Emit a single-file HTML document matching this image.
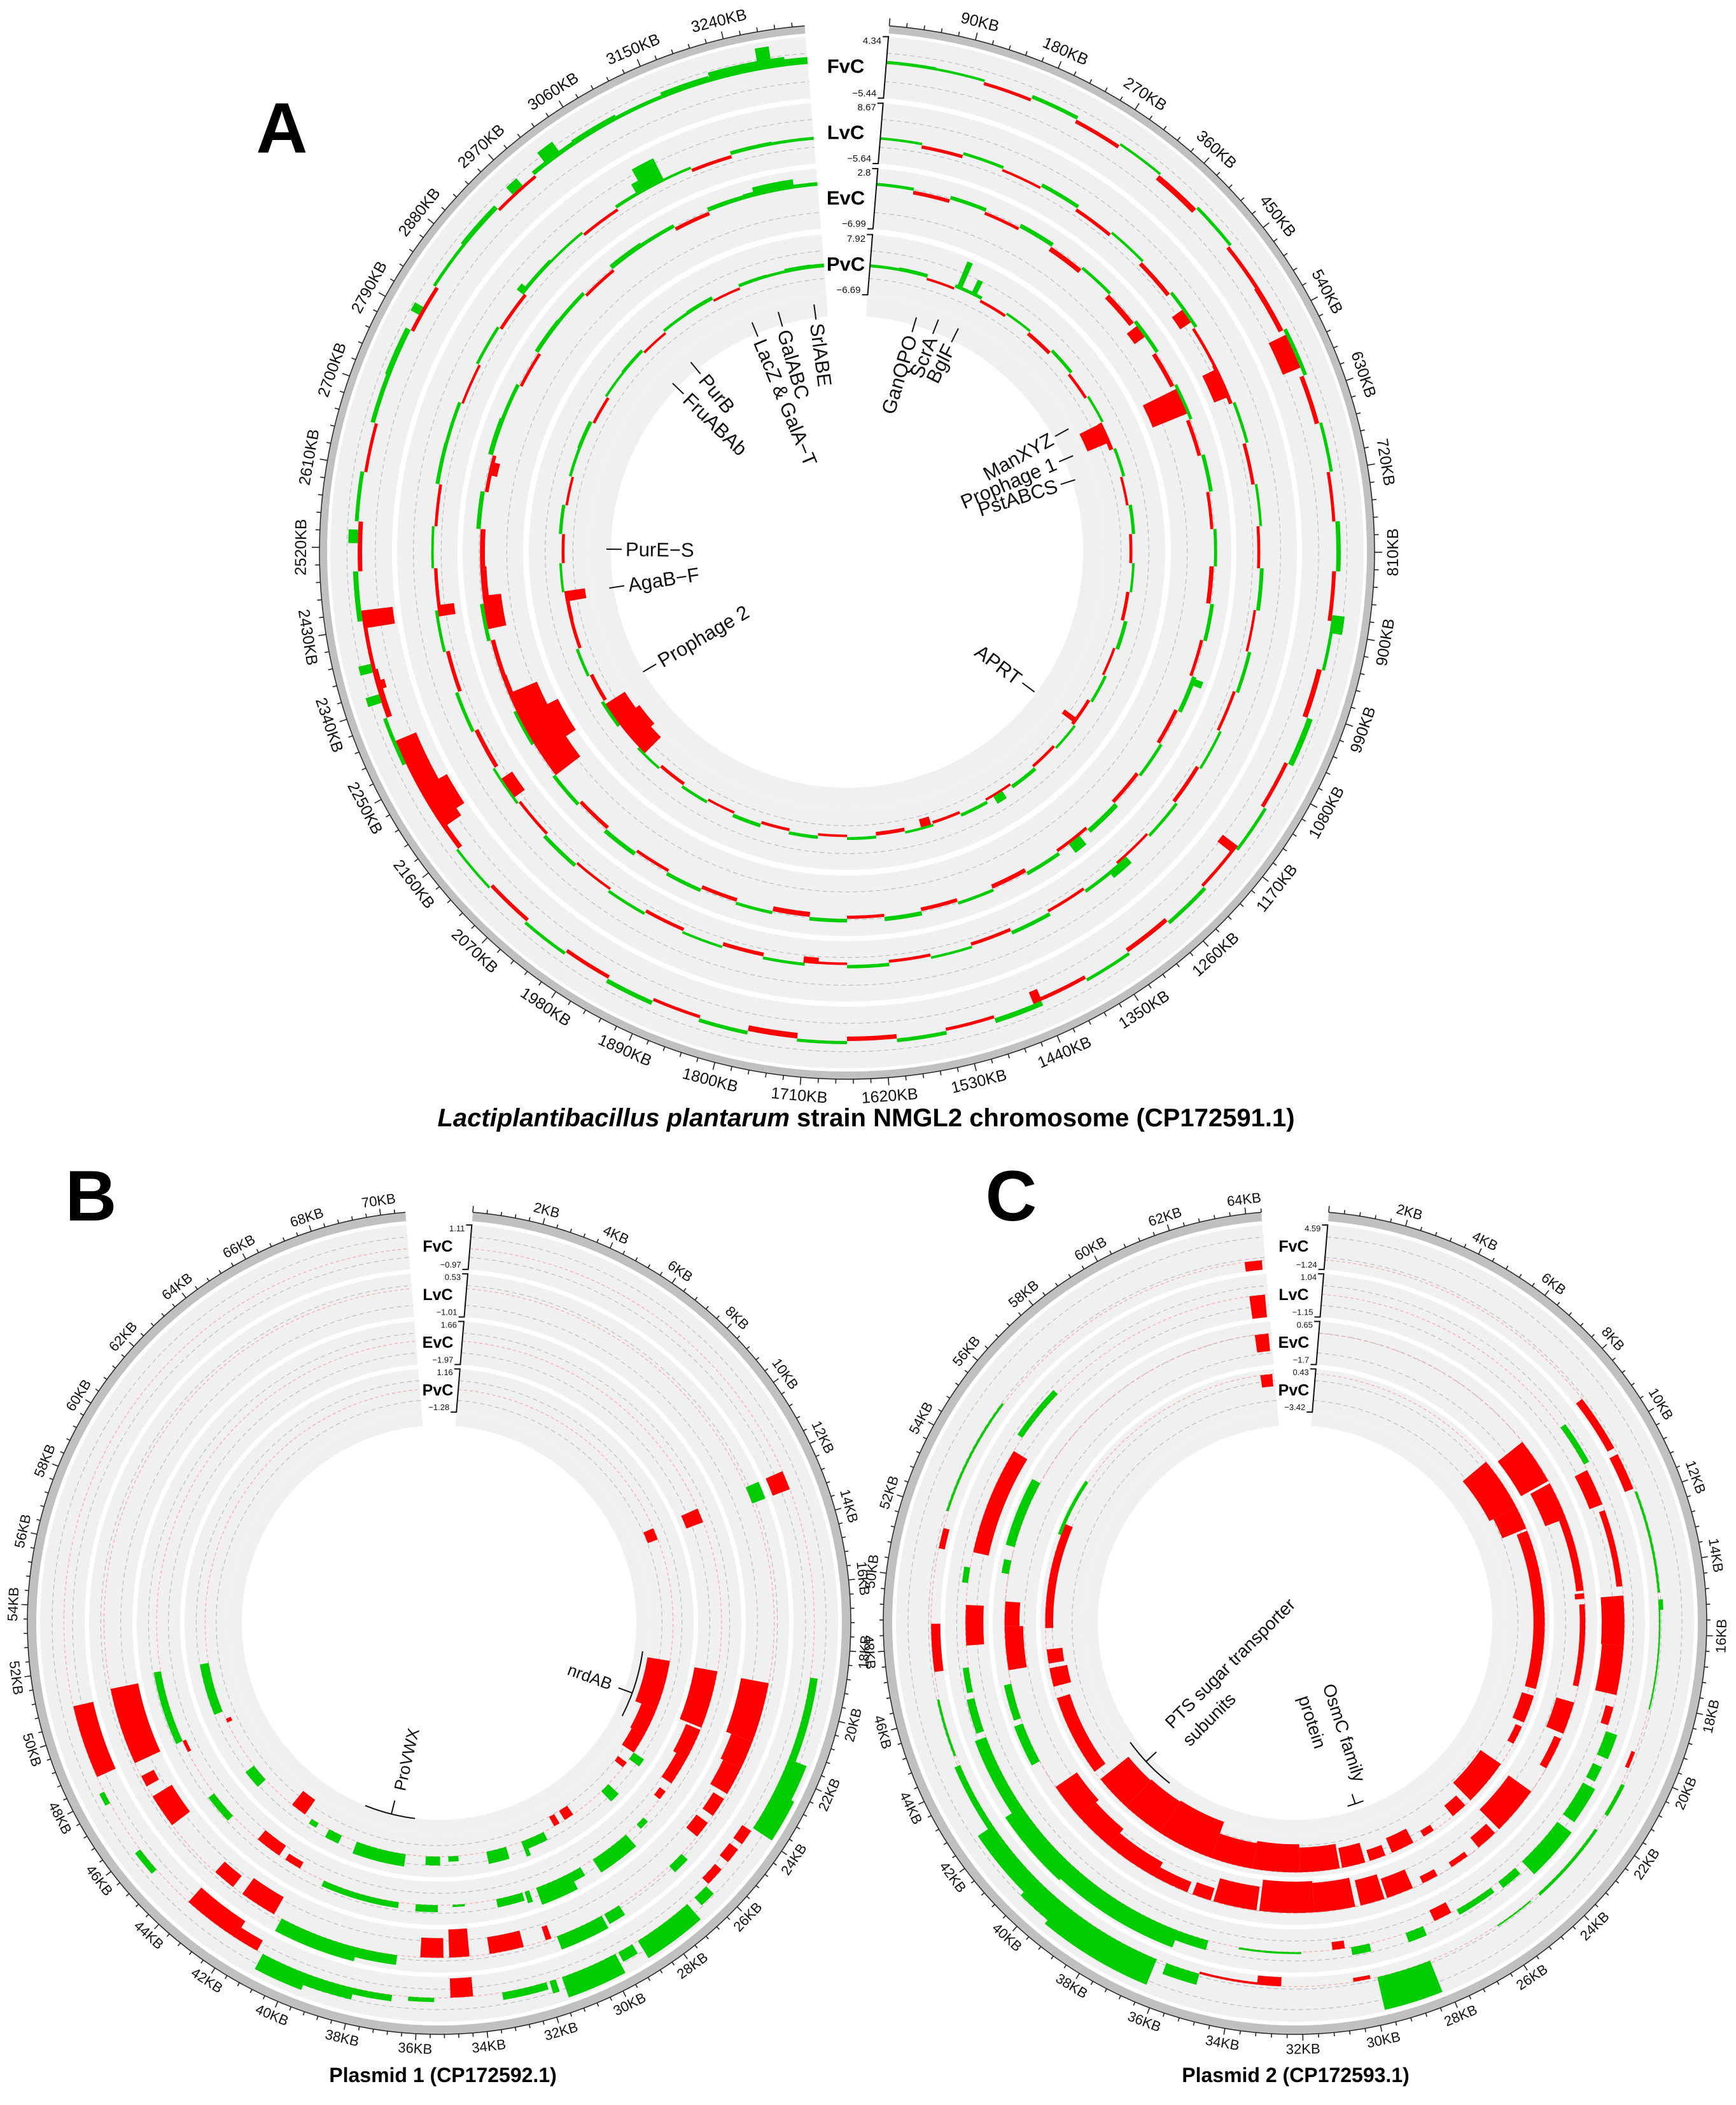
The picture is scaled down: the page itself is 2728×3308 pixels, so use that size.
<!DOCTYPE html>
<html>
<head>
<meta charset="utf-8">
<title>Lactiplantibacillus plantarum NMGL2 circos plots</title>
<style>
html,body{margin:0;padding:0;background:#ffffff;}
svg{display:block;font-family:"Liberation Sans",Arial,sans-serif;}
</style>
</head>
<body>
<svg id="chart" xmlns="http://www.w3.org/2000/svg" width="2728" height="3308" viewBox="0 0 2728 3308">
  <rect x="0" y="0" width="2728" height="3308" fill="#ffffff"/>
  <g id="panelA"></g>
  <g id="panelB"></g>
  <g id="panelC"></g>
  <text x="443" y="240" font-size="112" font-weight="bold" text-anchor="middle">A</text>
  <text x="143" y="1918" font-size="112" font-weight="bold" text-anchor="middle">B</text>
  <text x="1589" y="1918" font-size="112" font-weight="bold" text-anchor="middle">C</text>
  <text x="1361" y="1770" font-size="40" font-weight="bold" text-anchor="middle"><tspan font-style="italic">Lactiplantibacillus plantarum</tspan> strain NMGL2 chromosome (CP172591.1)</text>
  <text x="696" y="3272" font-size="32" font-weight="bold" text-anchor="middle">Plasmid 1 (CP172592.1)</text>
  <text x="2036" y="3272" font-size="32" font-weight="bold" text-anchor="middle">Plasmid 2 (CP172593.1)</text>
</svg>
<script>
// ---------------- DATA ----------------
const trackNames = ['FvC', 'LvC', 'EvC', 'PvC'];

// Panel A (chromosome, KB)
const aMax = [4.34, 8.67, 2.8, 7.92];
const aMin = [-5.44, -5.64, -6.99, -6.69];
const aNoiseFvC = [0.5,0.4,-0.5,0.6,-0.6,0.4,-0.9,0.5,-0.6,-0.8,0.6,-0.7,0.5,-0.5,0.7,-0.6,0.5,-0.8,0.9,-0.6,0.5,-0.5,0.6,-0.7,0.5,-0.6,0.8,-0.5,0.6,-0.7,0.5,-0.9,0.6,-0.5,0.7,-0.6,0.5,-0.6,0.4,-0.8,-0.7,0.6,-0.9,-0.6,0.8,-0.7,0.6,-0.5,0.7,0.9,-0.6,0.5,0.8,-0.5,0.7,0.9,0.6,1.0,0.8,1.1];
const aNoiseLvC = [0.6,-0.8,0.7,-0.6,0.9,-0.8,0.6,-1.0,0.8,-0.7,-0.9,0.7,-0.8,0.6,-0.7,0.9,-0.6,0.8,-0.7,0.6,-0.9,0.7,-0.6,0.8,-0.7,0.9,-0.8,0.6,-0.7,0.8,-0.6,0.7,-0.9,0.6,-0.8,0.7,-0.6,0.9,-0.7,0.6,-1.0,0.8,-0.9,0.7,-0.8,0.6,-0.7,0.9,0.8,-0.6,0.7,-0.8,0.9,0.6,-0.7,0.8,0.6,-0.8,0.9,0.7];
const aNoiseEvC = [0.5,-0.6,0.6,-0.5,0.7,-0.8,0.5,-0.9,0.6,-0.7,0.5,-0.6,0.6,-0.5,0.5,-0.7,0.6,-0.5,0.7,-0.6,0.5,-0.6,0.8,-0.5,0.6,-0.7,0.5,-0.6,0.7,-0.5,0.6,-0.8,0.5,-0.6,0.6,-0.5,0.7,-0.6,0.6,-0.9,0.5,-0.8,-0.7,0.6,-1.0,-0.8,0.7,-0.6,0.8,0.6,-0.5,0.7,0.6,-0.5,0.8,0.6,-0.6,0.7,0.8,0.6];
const aNoisePvC = [0.7,0.9,-0.6,0.8,-0.7,0.6,-0.9,0.8,-0.7,0.6,-1.0,0.7,-0.6,0.8,-0.7,0.6,-0.8,0.9,-0.6,0.7,-0.8,0.6,-0.7,0.9,-0.6,0.8,-0.7,0.6,-0.9,0.7,-0.6,0.8,-0.7,0.9,-0.6,0.7,-0.8,0.6,-0.7,0.8,-0.9,0.7,-0.8,-0.9,0.6,-0.7,0.8,-0.6,0.7,0.9,-0.7,0.6,0.8,-0.6,0.7,0.9,-0.6,0.8,0.7,0.9];
const aPeaksFvC = [[3215,3300,1.5],[3270,3285,3.5],[3010,3030,2.5],[2960,2975,1.5],[2790,2800,1.5],[2525,2540,1.5],[2430,2450,-5.0],[2380,2390,2.0],[2360,2370,-1.5],[2345,2355,2.2],[2190,2300,-3.5],[2200,2240,-5.0],[1440,1450,-2.0],[1160,1170,-3.0],[880,900,2.0],[560,600,-3.0]];
const aPeaksLvC = [[3090,3120,6.0],[3080,3090,3.0],[2880,2890,2.0],[2430,2445,-4.0],[2170,2200,-3.0],[1700,1720,-1.5],[1260,1290,2.0],[560,600,-4.0],[470,490,-3.0]];
const aPeaksEvC = [[3230,3290,1.5],[2630,2650,-1.5],[2400,2450,-3.0],[2160,2300,-5.0],[2200,2260,-6.9],[1290,1310,1.8],[1000,1010,2.0],[560,600,-6.0],[450,470,-2.0]];
const aPeaksPvC = [[3250,3300,1.0],[2420,2440,-5.0],[2090,2210,-5.5],[2120,2170,-6.6],[1500,1520,-2.0],[1350,1370,2.0],[1150,1160,-4.0],[555,595,-6.0],[200,210,4.0],[170,180,7.0]];

// Panel B (plasmid 1, KB)
const bMax = [1.11, 0.53, 1.66, 1.16];
const bMin = [-0.97, -1.01, -1.97, -1.28];
const bFvC = [[12.4,13.0,-0.85],[18.9,21.5,0.35],[21.5,22.6,0.9],[22.6,23.9,1.05],[24.0,24.5,-0.5],[24.7,25.2,-0.5],[25.5,26.1,-0.4],[26.2,26.7,0.5],[27.0,28.9,0.95],[29.1,29.6,0.5],[29.7,31.5,1.0],[31.7,31.9,0.6],[32.0,33.4,0.35],[34.3,35.0,-0.9],[35.5,36.3,0.2],[36.8,38.0,0.3],[38.0,39.5,0.55],[39.5,41.0,0.8],[41.2,42.0,-0.55],[42.0,43.8,-0.9],[45.2,46.0,0.3],[47.7,48.1,0.25],[48.6,50.9,-0.95]];
const bLvC = [[12.4,13.0,0.5],[19.3,21.4,-1.0],[21.4,22.4,-0.8],[22.4,23.4,-0.7],[23.6,24.3,-0.45],[24.6,25.2,-0.5],[26.0,26.6,0.3],[28.8,29.4,0.4],[29.5,31.2,0.5],[31.4,31.6,-0.5],[32.4,33.6,-0.6],[34.3,35.0,-1.0],[35.2,36.0,-0.7],[36.8,38.2,0.35],[38.2,39.8,0.5],[39.8,41.0,0.5],[41.3,42.6,-0.7],[43.0,43.8,-0.5],[46.0,47.2,-0.8],[47.6,48.0,-0.5],[48.5,51.2,-1.0]];
const bEvC = [[12.4,13.0,-1.5],[19.2,21.6,-1.95],[21.7,23.0,-1.3],[23.0,24.2,-1.0],[24.6,25.0,-0.6],[26.0,26.4,0.5],[27.0,28.7,1.3],[29.3,29.8,0.8],[29.8,31.3,1.5],[31.6,31.8,1.0],[31.9,33.0,0.7],[34.3,34.8,0.2],[35.4,36.3,0.6],[37.0,40.2,0.5],[41.3,42.0,-0.6],[42.3,43.4,-1.0],[44.8,46.0,0.6],[48.0,48.5,-0.3],[48.5,51.5,0.6]];
const bPvC = [[12.4,13.0,-0.6],[19.1,21.6,-1.28],[21.6,23.0,-0.9],[23.0,24.0,-0.8],[24.0,24.4,0.7],[24.6,24.9,-0.6],[26.0,26.5,0.8],[28.3,28.8,-0.6],[29.1,29.4,-0.6],[30.0,31.0,0.5],[31.0,31.2,0.9],[32.0,33.0,0.7],[34.4,34.9,0.3],[35.3,36.0,0.5],[37.0,39.5,0.7],[40.3,41.0,0.5],[41.6,42.0,0.3],[42.4,43.2,-1.0],[45.0,45.9,0.6],[48.4,48.6,-0.3],[49.0,51.5,0.5]];

// Panel C (plasmid 2, KB)
const cMax = [4.59, 1.04, 0.65, 0.43];
const cMin = [-1.24, -1.15, -1.7, -3.42];
const cFvC = [[8.7,10.4,-1.0],[10.6,11.7,-1.2],[11.8,14.8,0.3],[15.0,15.3,0.6],[15.3,18.2,0.2],[19.5,20.0,-0.5],[20.5,21.5,0.5],[22.0,24.5,0.4],[24.8,26.0,0.2],[28.2,29.8,4.4],[30.0,30.5,-0.5],[32.6,33.3,-1.2],[33.3,35.0,-0.3],[35.0,36.0,1.5],[36.3,39.5,3.6],[39.5,40.5,3.0],[40.5,42.5,2.4],[42.5,44.5,0.8],[44.8,46.5,0.3],[47.3,48.7,-1.2],[50.9,51.5,-0.8],[52.0,55.5,0.3],[63.8,64.3,-1.24]];
const cLvC = [[9.0,10.4,0.3],[10.6,11.8,-0.7],[12.0,14.5,-0.3],[14.8,16.4,-1.15],[16.4,18.0,-1.1],[18.4,19.0,-0.4],[19.2,20.0,0.6],[20.3,20.8,0.5],[21.0,22.2,0.7],[22.5,24.2,0.9],[24.5,25.2,0.4],[25.5,26.8,0.3],[27.0,27.6,-0.6],[28.0,28.6,0.5],[29.8,30.4,0.4],[30.6,31.0,-0.4],[32.0,34.0,0.1],[35.0,36.0,0.5],[36.0,40.0,0.9],[40.0,42.5,1.0],[42.5,45.0,0.6],[45.2,46.3,0.4],[46.5,47.3,0.3],[48.0,49.3,-0.9],[50.0,50.5,0.3],[51.0,54.5,-0.8],[55.0,56.8,0.3],[63.8,64.3,-1.15]];
const cEvC = [[8.6,10.3,-1.7],[10.4,11.8,-1.2],[11.8,14.5,-0.4],[14.6,14.8,-0.5],[15.0,18.0,-0.3],[18.6,19.8,-1.0],[20.0,21.2,-0.4],[22.2,24.0,-1.5],[24.2,25.0,-0.7],[25.5,26.2,-0.3],[26.8,27.4,-0.4],[27.8,28.8,-1.1],[28.9,29.8,-1.4],[30.0,31.5,-1.6],[31.5,33.5,-1.7],[33.6,35.2,-1.3],[35.3,36.0,-0.7],[36.2,37.5,-0.6],[37.5,39.5,-0.9],[39.5,41.0,-1.2],[41.0,42.4,-1.4],[43.5,45.0,0.5],[45.2,46.5,0.4],[47.0,48.6,-1.0],[48.6,49.5,-0.8],[50.5,51.0,0.4],[51.5,54.0,0.5],[63.8,64.3,-0.95]];
const cPvC = [[8.3,10.6,-2.7],[10.6,11.6,-2.3],[11.7,18.5,-1.0],[18.8,20.0,-1.1],[20.2,21.0,-0.6],[22.0,24.0,-2.2],[24.3,25.0,-1.2],[26.0,26.5,-0.6],[27.0,28.0,-1.4],[28.3,29.0,-1.0],[29.2,30.2,-1.8],[30.3,32.0,-2.2],[32.0,34.0,-2.5],[34.0,35.8,-2.3],[35.8,38.2,-3.4],[38.2,40.0,-3.3],[40.0,41.6,-3.2],[42.0,45.5,-1.2],[46.0,46.8,-1.6],[47.0,47.6,-1.4],[48.5,53.0,-0.7],[52.5,55.0,0.3],[63.8,64.3,-1.1]];

// ---------------- LAYOUT (not data) ----------------
const cfgA = {cx:1331, cy:867, len:3325, gap:4.6, axisIn:817, axisOut:829,
  tracks:[[715,812],[612,707],[509,604],[405,500]], inner:371,
  minor:18, perMajor:5, tickMinor:7, tickMajor:12, labelR:858, labelFont:25,
  nameFont:31, numFont:15, faint:false};
const cfgB = {cx:690, cy:2550, len:70.7, gap:4.7, axisIn:633, axisOut:647,
  tracks:[[557,627],[482,550],[407,475],[332,400]], inner:310,
  minor:0.4, perMajor:5, tickMinor:6, tickMajor:10, labelR:670, labelFont:22,
  nameFont:25, numFont:13, faint:true};
const cfgC = {cx:2035, cy:2550, len:64.4, gap:4.7, axisIn:633, axisOut:647,
  tracks:[[557,627],[482,550],[407,475],[332,400]], inner:310,
  minor:0.4, perMajor:5, tickMinor:6, tickMajor:10, labelR:670, labelFont:22,
  nameFont:25, numFont:13, faint:true};

const RED = '#ff0000', GREEN = '#00cc00';
const NS = 'http://www.w3.org/2000/svg';

function mk(tag, attrs, parent) {
  const e = document.createElementNS(NS, tag);
  for (const k in attrs) e.setAttribute(k, attrs[k]);
  if (parent) parent.appendChild(e);
  return e;
}
function f(p) { return p[0].toFixed(2) + ',' + p[1].toFixed(2); }
function pol(cx, cy, r, a) { const t = a * Math.PI / 180; return [cx + r * Math.sin(t), cy - r * Math.cos(t)]; }
function sectorD(cx, cy, r0, r1, a0, a1) {
  if (r1 < r0) { const t = r0; r0 = r1; r1 = t; }
  const L = (a1 - a0) > 180 ? 1 : 0;
  const p1 = pol(cx, cy, r1, a0), p2 = pol(cx, cy, r1, a1), p3 = pol(cx, cy, r0, a1), p4 = pol(cx, cy, r0, a0);
  return 'M' + f(p1) + 'A' + r1 + ',' + r1 + ' 0 ' + L + ' 1 ' + f(p2) + 'L' + f(p3) + 'A' + r0 + ',' + r0 + ' 0 ' + L + ' 0 ' + f(p4) + 'Z';
}
function arcD(cx, cy, r, a0, a1) {
  const L = (a1 - a0) > 180 ? 1 : 0;
  return 'M' + f(pol(cx, cy, r, a0)) + 'A' + r + ',' + r + ' 0 ' + L + ' 1 ' + f(pol(cx, cy, r, a1));
}

function drawPanel(root, cfg, maxs, mins, series, noises) {
  const span = 360 - 2 * cfg.gap;
  const ang = pos => cfg.gap + pos / cfg.len * span;
  const a0 = cfg.gap, a1 = cfg.gap + span;
  const cx = cfg.cx, cy = cfg.cy;

  const band = mk('path', {d: sectorD(cx, cy, cfg.axisIn, cfg.axisOut, a0, a1), fill:'#c0c0c0'}, root);
  
  
  const edge = mk('path', {d: arcD(cx, cy, cfg.axisOut, a0, a1), fill:'none', stroke:'#222', 'stroke-width':1.5}, root);
  
  

  const tg = mk('g', {}, root);
  
  
  let tickD = '';
  for (let k = 0; k * cfg.minor <= cfg.len + 1e-9; k++) {
    const a = ang(k * cfg.minor);
    const major = k % cfg.perMajor === 0;
    const l = major ? cfg.tickMajor : cfg.tickMinor;
    tickD += 'M' + f(pol(cx, cy, cfg.axisOut, a)) + 'L' + f(pol(cx, cy, cfg.axisOut + l, a));
    if (major && k > 0) {
      const val = Math.round(k * cfg.minor * 10) / 10;
      const p = pol(cx, cy, cfg.labelR, a);
      const rot = (a > 90 && a < 270) ? a - 180 : a;
      const t = mk('text', {x:p[0].toFixed(1), y:p[1].toFixed(1), 'font-size':cfg.labelFont, 'text-anchor':'middle', 'dominant-baseline':'central', fill:'#111', transform:'rotate(' + rot.toFixed(2) + ' ' + p[0].toFixed(1) + ' ' + p[1].toFixed(1) + ')'}, tg);
      t.textContent = val + 'KB';
      
      
    }
  }
  const tp = mk('path', {d:tickD, stroke:'#222', 'stroke-width':1.6, fill:'none'}, tg);
  
  

  const ir = mk('path', {d: sectorD(cx, cy, cfg.inner, cfg.tracks[3][0], a0, a1), fill:'#f0f0f0'}, root);
  
  

  for (let i = 0; i < 4; i++) {
    const [r0, r1] = cfg.tracks[i];
    const h = r1 - r0;
    const mx = maxs[i], mn = mins[i];
    const rOf = v => r0 + (v - mn) / (mx - mn) * h;
    const rb = rOf(0);
    const g = mk('g', {}, root);
    
    
    const bg = mk('path', {d: sectorD(cx, cy, r0, r1, a0, a1), fill:'#f0f0f0'}, g);
    
    
    [0.27, 0.73].forEach(fr => {
      const gl = mk('path', {d: arcD(cx, cy, r0 + fr * h, a0, a1), fill:'none', stroke:'#b8b8b8', 'stroke-width':1.1, 'stroke-dasharray':'7 5'}, g);
      
      
    });
    if (cfg.faint) {
      const fl = mk('path', {d: arcD(cx, cy, rb, a0, a1), fill:'none', stroke:'#f6a6a6', 'stroke-width':1.2, 'stroke-dasharray':'5 4'}, g);
      
      
    }
    if (noises) {
      const arr = noises[i];
      const w = cfg.len / arr.length;
      let dG = '', dR = '';
      arr.forEach((v, j) => {
        const s = j * w, e = (j + 1) * w;
        const d = sectorD(cx, cy, rb, rOf(v), ang(s), ang(e));
        if (v >= 0) dG += d; else dR += d;
      });
      const ng = mk('path', {d:dG, fill:GREEN}, g);
      
      
      const nr = mk('path', {d:dR, fill:RED}, g);
      
      
    }
    series[i].forEach(seg => {
      const [s, e, v] = seg;
      const b = mk('path', {d: sectorD(cx, cy, rb, rOf(v), ang(s), ang(e)), fill: v >= 0 ? GREEN : RED}, g);
      
      
    });

    const pt = pol(cx, cy, r1, a0), pb = pol(cx, cy, r0, a0);
    const br = mk('path', {d:'M' + (pt[0] - 9).toFixed(1) + ',' + pt[1].toFixed(1) + 'L' + f(pt) + 'L' + f(pb) + 'L' + (pb[0] - 9).toFixed(1) + ',' + pb[1].toFixed(1), fill:'none', stroke:'#111', 'stroke-width':2}, g);
    
    
    const tMax = mk('text', {x:(pt[0] - 11).toFixed(1), y:(pt[1] + cfg.numFont * 0.75).toFixed(1), 'font-size':cfg.numFont, 'text-anchor':'end', fill:'#111'}, g);
    tMax.textContent = String(mx);
    
    
    const tMin = mk('text', {x:(pb[0] - 11).toFixed(1), y:(pb[1] - 3).toFixed(1), 'font-size':cfg.numFont, 'text-anchor':'end', fill:'#111'}, g);
    tMin.textContent = String(mn).replace('-', '\u2212');
    
    
    const nm = mk('text', {x:cx - 2, y:(cy - (r0 + r1) / 2 + cfg.nameFont * 0.36).toFixed(1), 'font-size':cfg.nameFont, 'font-weight':'bold', 'text-anchor':'middle', fill:'#000'}, g);
    nm.textContent = trackNames[i];
    
    
  }
}

const gA = document.getElementById('panelA');
const gB = document.getElementById('panelB');
const gC = document.getElementById('panelC');
drawPanel(gA, cfgA, aMax, aMin, [aPeaksFvC, aPeaksLvC, aPeaksEvC, aPeaksPvC], [aNoiseFvC, aNoiseLvC, aNoiseEvC, aNoisePvC]);
drawPanel(gB, cfgB, bMax, bMin, [bFvC, bLvC, bEvC, bPvC], null);
drawPanel(gC, cfgC, cMax, cMin, [cFvC, cLvC, cEvC, cPvC], null);

// ---------------- annotations ----------------
const aLabels = [['SrlABE',-7.6,392],['GalABC',-16.0,392],['LacZ & GalA\u2212T',-22.5,390],['PurB',-39.5,386],['FruABAb',-46.0,381],
  ['GanQPO',16.5,384],['ScrA',21.5,392],['BglF',26.5,392],['ManXYZ',61.0,398],['Prophage 1',67.0,386],['PstABCS',72.5,376],
  ['PurE\u2212S',270.6,378],['AgaB\u2212F',261.3,378],['Prophage 2',239.5,372],['APRT',126.8,368]];
const annA = mk('g', {}, gA);


aLabels.forEach(lb => {
  const [txt, phi, r] = lb;
  const cx = cfgA.cx, cy = cfgA.cy;
  const l = mk('path', {d:'M' + f(pol(cx, cy, r, phi)) + 'L' + f(pol(cx, cy, r - 24, phi)), stroke:'#111', 'stroke-width':2}, annA);
  
  
  const p = pol(cx, cy, r - 30, phi);
  let a = ((phi % 360) + 360) % 360;
  const right = a < 180;
  const rot = right ? a - 90 : a + 90;
  const t = mk('text', {x:p[0].toFixed(1), y:p[1].toFixed(1), 'font-size':31, 'text-anchor': right ? 'end' : 'start', 'dominant-baseline':'central', fill:'#111', transform:'rotate(' + rot.toFixed(2) + ' ' + p[0].toFixed(1) + ' ' + p[1].toFixed(1) + ')'}, annA);
  t.textContent = txt;
  
  
});

function plainLabel(parent, txt, x, y, rot, size) {
  const t = mk('text', {x:x, y:y, 'font-size':size, 'text-anchor':'middle', 'dominant-baseline':'central', fill:'#111', transform:'rotate(' + rot + ' ' + x + ' ' + y + ')'}, parent);
  t.textContent = txt;
  return t;
}
const annB = mk('g', {}, gB);


const l1 = plainLabel(annB, 'nrdAB', 927, 2635, 20, 26);


const l2 = plainLabel(annB, 'ProVWX', 639, 2765, -77, 26);


const lk1 = mk('path', {d: arcD(690, 2550, 323, 98, 117) + 'M' + f(pol(690, 2550, 323, 110)) + 'L' + f(pol(690, 2550, 300, 110)), fill:'none', stroke:'#111', 'stroke-width':2}, annB);


const lk2 = mk('path', {d: arcD(690, 2550, 310, 187, 202) + 'M' + f(pol(690, 2550, 310, 194)) + 'L' + f(pol(690, 2550, 288, 194)), fill:'none', stroke:'#111', 'stroke-width':2}, annB);



const annC = mk('g', {}, gC);


const c1 = plainLabel(annC, 'PTS sugar transporter', 1933, 2614, -45, 28);


const c2 = plainLabel(annC, 'subunits', 1900, 2702, -45, 28);


const c3 = plainLabel(annC, 'OsmC family', 2112, 2723, 72, 28);


const c4 = plainLabel(annC, 'protein', 2062, 2706, 72, 28);


const lk3 = mk('path', {d: arcD(2035, 2550, 320, 218, 234) + 'M' + f(pol(2035, 2550, 320, 227)) + 'L' + f(pol(2035, 2550, 298, 227)), fill:'none', stroke:'#111', 'stroke-width':2}, annC);


const lk4 = mk('path', {d: arcD(2035, 2550, 300, 159, 164) + 'M' + f(pol(2035, 2550, 300, 161.6)) + 'L' + f(pol(2035, 2550, 284, 161.6)), fill:'none', stroke:'#111', 'stroke-width':2}, annC);


</script>
</body>
</html>
